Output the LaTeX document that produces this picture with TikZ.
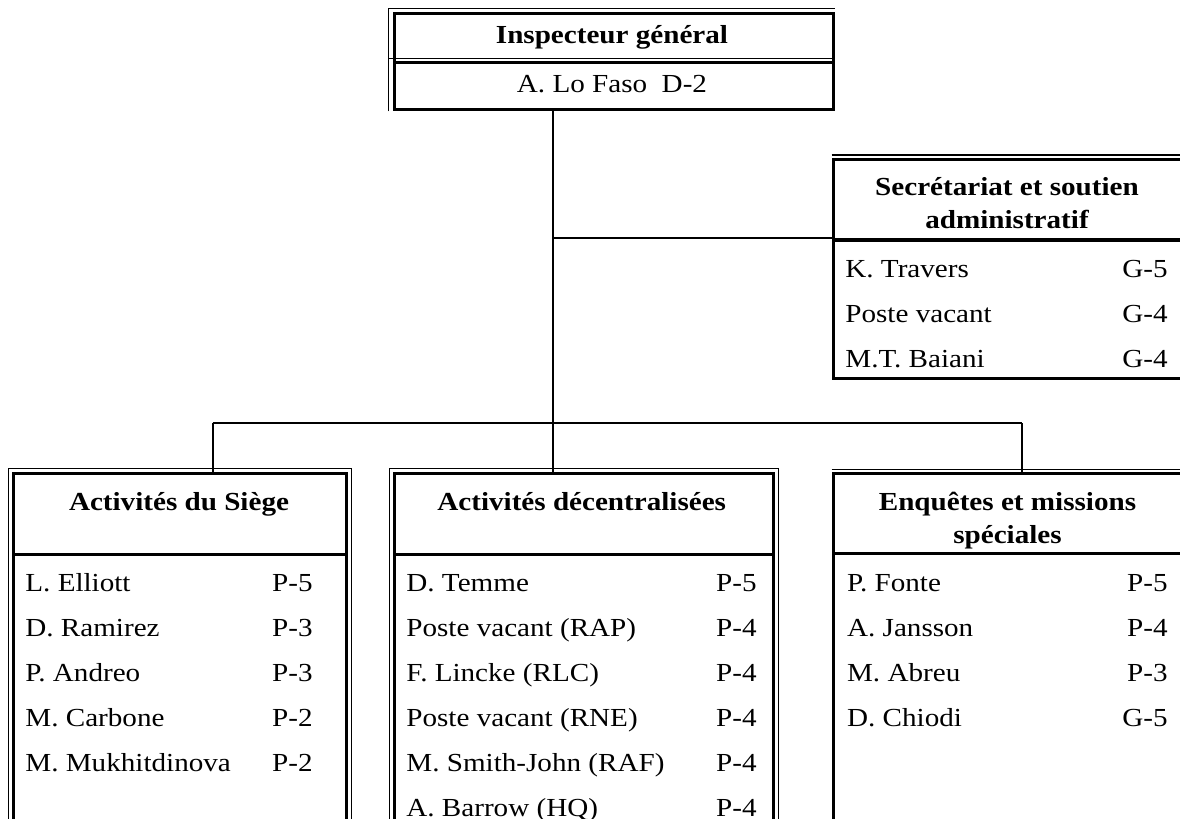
\documentclass[tikz,border=0pt]{standalone}
\usepackage{fontspec}
\setmainfont{Liberation Serif}[FakeStretch=1.12]
\usetikzlibrary{positioning}

\newcommand\orgfont{\fontsize{13}{16.5}\selectfont}

\tikzset{
    frame/.style={draw, line width=1.7pt, inner sep=0pt, anchor=north west},
    thinline/.style={line width=0.6pt},
    link/.style={line width=1pt},
    head/.style={font=\orgfont\bfseries, align=center, inner sep=0pt, anchor=base},
    item/.style={font=\orgfont, inner sep=0pt, text height=9pt, text depth=3pt},
    grade/.style={font=\orgfont, inner sep=0pt, anchor=base east},
    nextrow/.style={below=of #1.south west, anchor=north west},
}

\begin{document}
\begin{tikzpicture}[x=0.5pt, y=-0.5pt, node distance=10.1pt]
    \useasboundingbox (0,0) rectangle (1180,819);
    \clip (0,0) rectangle (1180,819);

    % boxes
    \node[frame, minimum width=219.75pt, minimum height=24.5pt] (ighead) at (392.5,12) {};
    \node[frame, minimum width=219.75pt, minimum height=23.5pt] (igname) at (392.5,61) {};
    \node[frame, minimum width=190pt, minimum height=40.15pt] (sechead) at (831.7,158) {};
    \node[frame, minimum width=190pt, minimum height=69.2pt] (seclist) at (831.7,238.3) {};
    \node[frame, minimum width=166.5pt, minimum height=40.5pt] (siegehead) at (12,472) {};
    \node[frame, minimum width=166.5pt, minimum height=140pt] (siegelist) at (12,553) {};
    \node[frame, minimum width=189.35pt, minimum height=40.5pt] (decenthead) at (393,472) {};
    \node[frame, minimum width=189.35pt, minimum height=140pt] (decentlist) at (393,553) {};
    \node[frame, minimum width=190pt, minimum height=40pt] (enqhead) at (831.7,472) {};
    \node[frame, minimum width=190pt, minimum height=140pt] (enqlist) at (831.7,552) {};

    % thin outer rules
    \draw[thinline] ([shift={(-4,0)}]igname.south west) |- ([shift={(0,-3.5)}]ighead.north east);
    \draw[thinline] ([shift={(-4,-2.5)}]igname.north west) -- ([shift={(0,-2.5)}]igname.north east);
    \draw[thinline] ([shift={(0,-3)}]sechead.north west) -- ([shift={(0,-3)}]sechead.north east);
    \draw[thinline] ([shift={(-3.7,0)}]siegelist.south west) |- ([shift={(3.3,-3.5)}]siegehead.north east) -- ([shift={(3.3,0)}]siegelist.south east);
    \draw[thinline] ([shift={(-3.5,0)}]decentlist.south west) |- ([shift={(3.3,-3.5)}]decenthead.north east) -- ([shift={(3.3,0)}]decentlist.south east);
    \draw[thinline] ([shift={(0,-2.7)}]enqhead.north west) -- ([shift={(0,-2.7)}]enqhead.north east);

    % connectors
    \coordinate (hub) at (552.7,237.7);
    \coordinate (bus) at (552.7,423.3);
    \coordinate (busL) at (212.7,423.3);
    \coordinate (busR) at (1022,423.3);
    \draw[link] (igname.south -| bus) -- (bus);
    \draw[link] (hub) -- (hub -| sechead.west);
    \draw[link] (busL) -- (busR);
    \draw[link] (busL) -- (busL |- siegehead.north);
    \draw[link] (bus) -- (bus |- decenthead.north);
    \draw[link] (busR) -- (busR |- enqhead.north);

    % Inspecteur general
    \node[head] (igtitle) at (612,43) {Inspecteur général};
    \node[font=\orgfont, inner sep=0pt, anchor=base] (ignom) at (612,92) {A. Lo Faso\ \ D-2};

    % Secretariat
    \coordinate (seccol) at (1168,0);
    \node[head] (sectitle) at (1007,228) {Secrétariat et soutien\\administratif};
    \node[item, anchor=base west] (sec1) at (845,277) {K. Travers};
    \node[item, nextrow=sec1] (sec2) {Poste vacant};
    \node[item, nextrow=sec2] (sec3) {M.T. Baiani};
    \node[grade] (sec1g) at (sec1.base -| seccol) {G-5};
    \node[grade] (sec2g) at (sec2.base -| seccol) {G-4};
    \node[grade] (sec3g) at (sec3.base -| seccol) {G-4};

    % Siege
    \coordinate (siegecol) at (313,0);
    \node[head] (siegetitle) at (179,510) {Activités du Siège};
    \node[item, anchor=base west] (siege1) at (25,591.7) {L. Elliott};
    \node[item, nextrow=siege1] (siege2) {D. Ramirez};
    \node[item, nextrow=siege2] (siege3) {P. Andreo};
    \node[item, nextrow=siege3] (siege4) {M. Carbone};
    \node[item, nextrow=siege4] (siege5) {M. Mukhitdinova};
    \node[grade] (siege1g) at (siege1.base -| siegecol) {P-5};
    \node[grade] (siege2g) at (siege2.base -| siegecol) {P-3};
    \node[grade] (siege3g) at (siege3.base -| siegecol) {P-3};
    \node[grade] (siege4g) at (siege4.base -| siegecol) {P-2};
    \node[grade] (siege5g) at (siege5.base -| siegecol) {P-2};

    % Decentralisees
    \coordinate (decentcol) at (757,0);
    \node[head] (decenttitle) at (581.7,510) {Activités décentralisées};
    \node[item, anchor=base west] (decent1) at (406,591.7) {D. Temme};
    \node[item, nextrow=decent1] (decent2) {Poste vacant (RAP)};
    \node[item, nextrow=decent2] (decent3) {F. Lincke (RLC)};
    \node[item, nextrow=decent3] (decent4) {Poste vacant (RNE)};
    \node[item, nextrow=decent4] (decent5) {M. Smith-John (RAF)};
    \node[item, nextrow=decent5] (decent6) {A. Barrow (HQ)};
    \node[grade] (decent1g) at (decent1.base -| decentcol) {P-5};
    \node[grade] (decent2g) at (decent2.base -| decentcol) {P-4};
    \node[grade] (decent3g) at (decent3.base -| decentcol) {P-4};
    \node[grade] (decent4g) at (decent4.base -| decentcol) {P-4};
    \node[grade] (decent5g) at (decent5.base -| decentcol) {P-4};
    \node[grade] (decent6g) at (decent6.base -| decentcol) {P-4};

    % Enquetes
    \coordinate (enqcol) at (1168,0);
    \node[head] (enqtitle) at (1007.5,543) {Enquêtes et missions\\spéciales};
    \node[item, anchor=base west] (enq1) at (846.7,591.7) {P. Fonte};
    \node[item, nextrow=enq1] (enq2) {A. Jansson};
    \node[item, nextrow=enq2] (enq3) {M. Abreu};
    \node[item, nextrow=enq3] (enq4) {D. Chiodi};
    \node[grade] (enq1g) at (enq1.base -| enqcol) {P-5};
    \node[grade] (enq2g) at (enq2.base -| enqcol) {P-4};
    \node[grade] (enq3g) at (enq3.base -| enqcol) {P-3};
    \node[grade] (enq4g) at (enq4.base -| enqcol) {G-5};
\end{tikzpicture}
\end{document}
